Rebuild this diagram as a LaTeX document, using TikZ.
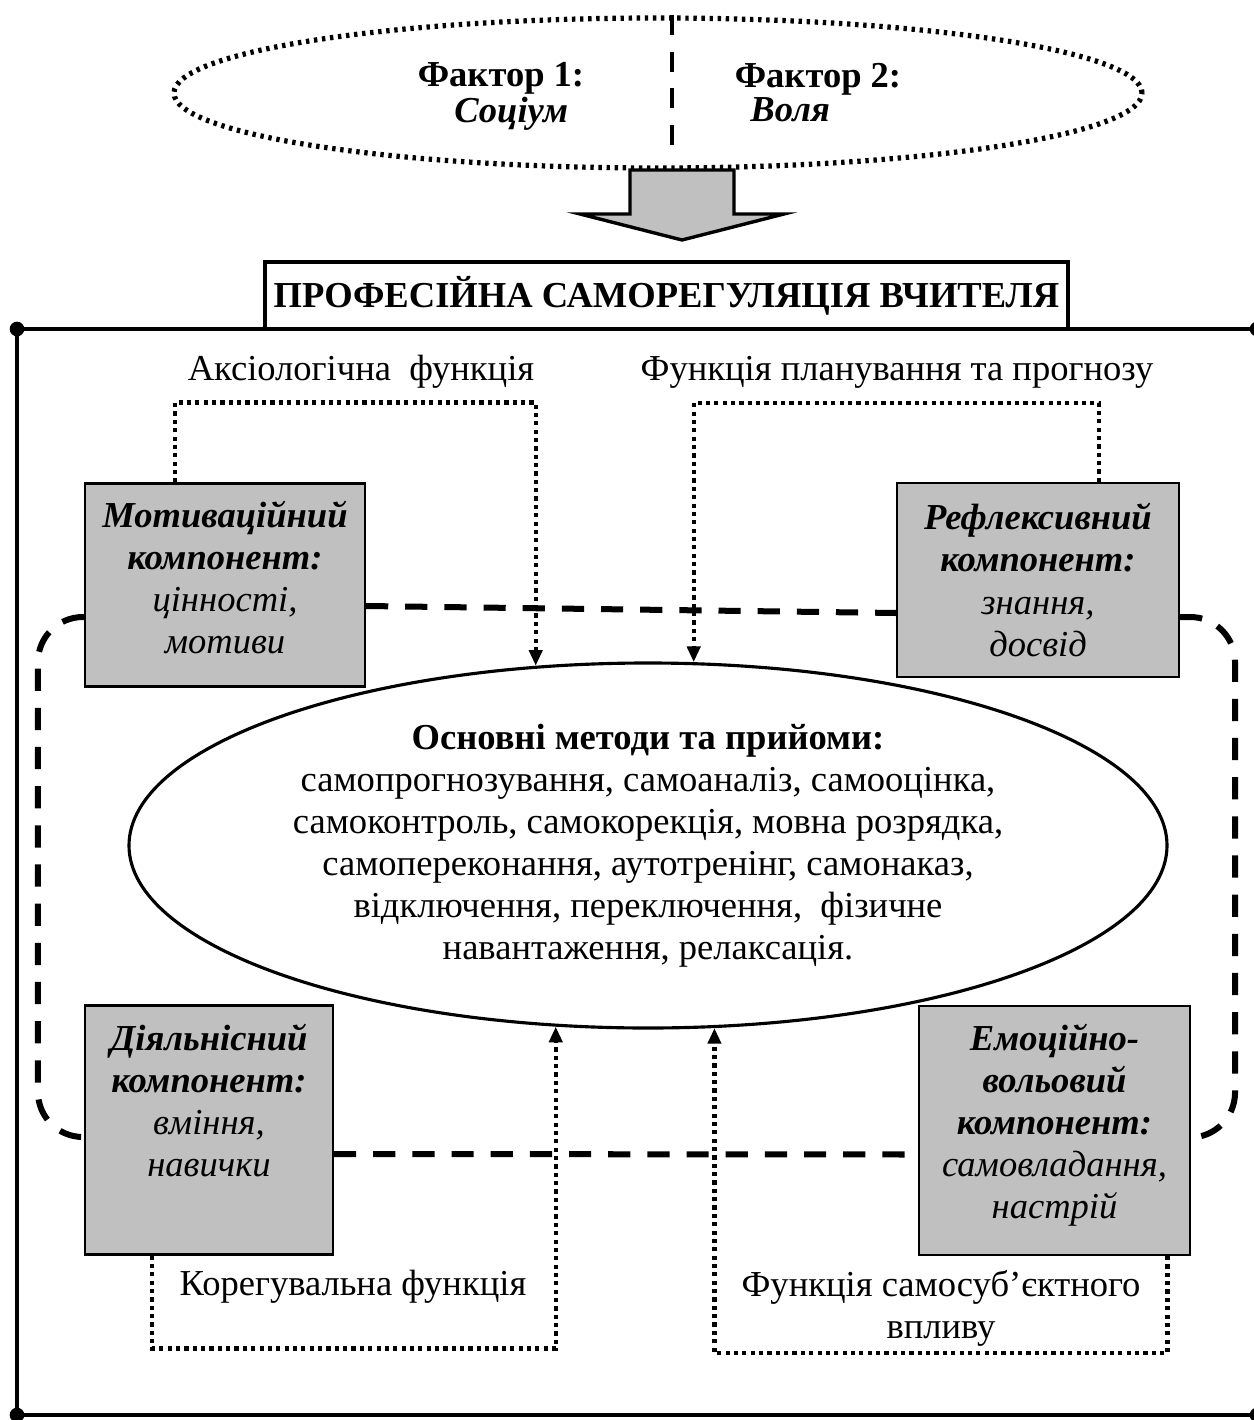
\documentclass[tikz,border=0pt]{standalone}
\usepackage{fontspec}
\setmainfont{Liberation Serif}
\usetikzlibrary{arrows.meta, shapes.geometric}
\definecolor{sirij}{HTML}{C0C0C0}
\newlength{\pxu}
\setlength{\pxu}{0.383pt}
\newcommand{\lift}[1]{\rule[-#1]{0pt}{0pt}}

\begin{document}
\begin{tikzpicture}[
        x=0.383pt, y=-0.383pt,
        font=\fontsize{14pt}{16.1pt}\selectfont,
        komp/.style = {rectangle, draw, line width=0.8pt, fill=sirij, align=center, inner sep=0pt, font=\fontsize{14pt}{16.1pt}\selectfont\itshape},
        funk/.style = {align=center, inner sep=0pt},
        fakt/.style = {align=left, inner sep=0pt, font=\fontsize{14pt}{12pt}\selectfont\bfseries},
        strilka/.style = {line width=1.6pt, dash pattern=on 1.6pt off 1.6pt, -{Triangle[length=6pt,width=5pt]}},
        rysky/.style = {line width=2.3pt, dash pattern=on 8.5pt off 6.5pt}
        ]
        \useasboundingbox (0,0) rectangle (1254,1420);

        % faktory
        \node[ellipse, draw, line width=2pt, dash pattern=on 1.3pt off 1.8pt, minimum width=968\pxu, minimum height=150\pxu, inner sep=0pt] (faktory) at (658,93) {};
        \draw[line width=1.5pt, dash pattern=on 7.5pt off 6.5pt] ([xshift=14\pxu]faktory.north) -- ([xshift=14\pxu,yshift=13\pxu]faktory.south);
        \node[fakt] (fak1) at (501,97) {Фактор 1:\\ \hspace*{14pt}\textit{Соціум}\strut};
        \node[fakt] (fak2) at (818,97) {Фактор 2:\\ \hspace*{6pt}\textit{Воля}\strut};
        \draw[line width=1.3pt, fill=sirij] (630,170) -- (734,170) -- (734,214) -- (784,214) -- (682,240) -- (580,214) -- (630,214) -- cycle;

        % ramka
        \coordinate (rlv) at (17,329);
        \coordinate (rpv) at (1257,329);
        \coordinate (rln) at (17,1415);
        \coordinate (rpn) at (1257,1415);
        \draw[line width=1.4pt] (rlv) rectangle (rpn);
        \foreach \k in {rlv,rpv,rln,rpn}
            \fill (\k) circle[radius=2.8pt];
        \node[draw, line width=1.3pt, fill=white, minimum width=803\pxu, minimum height=67\pxu, inner sep=0pt, font=\fontsize{14pt}{16.1pt}\selectfont\bfseries] (nazva) at (666.5,295.5) {ПРОФЕСІЙНА САМОРЕГУЛЯЦІЯ ВЧИТЕЛЯ};

        % funktsii
        \node[funk] (aksfn) at (361,372) {Аксіологічна\ \ функція};
        \node[funk] (planfn) at (897,372) {Функція планування та прогнозу};
        \node[funk] (korfn) at (353,1287) {Корегувальна функція};
        \node[funk] (subfn) at (941,1308) {Функція самосуб’єктного\\ впливу};

        % komponenty
        \node[komp, minimum width=280\pxu, minimum height=203\pxu] (motiv) at (225,585) {\textbf{Мотиваційний}\\ \textbf{компонент:}\\ цінності,\\ мотиви\lift{6pt}};
        \node[komp, minimum width=282\pxu, minimum height=194\pxu] (reflex) at (1038,580) {\textbf{Рефлексивний}\\ \textbf{компонент:}\\ знання,\\ досвід};
        \node[komp, minimum width=248\pxu, minimum height=249\pxu] (diial) at (209,1130) {\textbf{Діяльнісний}\\ \textbf{компонент:}\\ вміння,\\ навички\lift{23pt}};
        \node[komp, minimum width=271\pxu, minimum height=249\pxu] (emoc) at (1054.5,1130.5) {\textbf{Емоційно-}\\ \textbf{вольовий}\\ \textbf{компонент:}\\ самовладання,\\ настрій\lift{7pt}};

        % metody
        \node[ellipse, draw, line width=1.2pt, minimum width=1038\pxu, minimum height=365\pxu, inner sep=0pt, align=center] (metody) at (648,845.5) {\textbf{Основні методи та прийоми:}\\ самопрогнозування, самоаналіз, самооцінка,\\ самоконтроль, самокорекція, мовна розрядка,\\ самопереконання, аутотренінг, самонаказ,\\ відключення, переключення,\ \ фізичне\\ навантаження, релаксація.};

        % shtrykhovyi kontur
        \draw[rysky] ([yshift=-21\pxu]motiv.east) -- ([yshift=-33\pxu]reflex.west);
        \draw[rysky] ([yshift=-24\pxu]diial.east) -- ([yshift=-24\pxu]emoc.west);
        \draw[rysky, rounded corners=45\pxu] ([yshift=-32\pxu]motiv.west) -| ([xshift=-46\pxu,yshift=-7\pxu]diial.west) -- ([yshift=-7\pxu]diial.west);
        \draw[rysky, rounded corners=45\pxu] ([yshift=-37\pxu]reflex.east) -| ([xshift=44\pxu,yshift=-7\pxu]emoc.east) -- ([yshift=-7\pxu]emoc.east);

        % strilky
        \draw[strilka] ([xshift=-50\pxu]motiv.north) -- ++(0,-80) -| (metody.122.1);
        \draw[strilka] ([xshift=61\pxu]reflex.north) -- ++(0,-79) -| (metody.76.1);
        \draw[strilka] ([xshift=-57\pxu]diial.south) -- ++(0,93) -| (metody.243.7);
        \draw[strilka] ([xshift=113\pxu]emoc.south) -- ++(0,97) -| (metody.290.6);

\end{tikzpicture}
\end{document}
